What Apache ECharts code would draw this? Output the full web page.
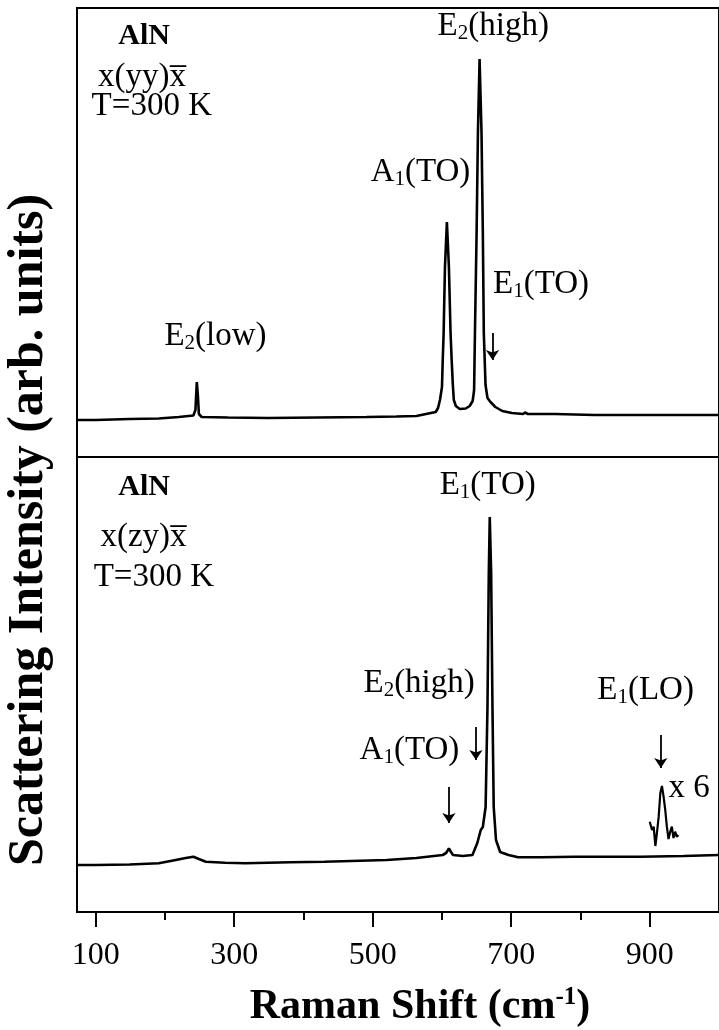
<!DOCTYPE html>
<html><head><meta charset="utf-8">
<script src="https://cdn.jsdelivr.net/npm/echarts@6/dist/echarts.min.js"></script>
<style>html,body{margin:0;padding:0;background:#fff}#c{width:719px;height:1030px}</style>
</head><body><div id="c"></div>
<script>
// Raman shift (cm^-1) tick labels
const tickLabels = [100, 300, 500, 700, 900];
const minorTicks = [200, 400, 600, 800];
// x(yy)x̄ spectrum: [Raman shift, intensity (arb. units)]
const topSpectrum = [
  [73,37],[100,37],[149,38],[191,38.5],[220,40],[234,41],[241,41.5],[244,47],[246,75],[247.5,62],[249,43],[253,40],
  [291,39.5],[349,39],[420,39.5],[491,40],[534,40.5],[563,41],[577,43],[584,44],[591,45],[594.3,49],[597.1,57],
  [600,70],[601.1,97],[602.4,124],[604.3,190],[607.1,235],[610,190],[612.4,124],[614,97],[615.7,72],[617.1,57],[620,51],
  [625.7,48],[634.3,48.5],[640,51],[644.3,56],[646.4,67],[647.6,124],[650,224],[651.9,324],[654.3,398],[657.1,324],
  [659,224],[660.4,124],[662.9,72],[665.7,59],[670,55],[677.1,50],[687,46],[701,44],[717,43],[720,44.5],[724,43],
  [763,43],[820,42],[891,42],[1000,42]
];
// x(zy)x̄ spectrum
const bottomSpectrum = [
  [73,47],[100,47],[149,47.5],[191,48.7],[210,51.3],[230,54],[241,55.3],[249,53],[259,50.3],[287,49.3],[316,48.7],
  [381,49.7],[430,50.3],[520,52],[563,54],[601,57],[606,59],[610,63.7],[613,60],[616,57],[630,56],[644,57],[651,69],
  [656,82],[659,85],[663,105],[665.7,205],[667.6,339],[669,395],[671,339],[672.9,205],[674.7,105],[678,72],[684,60],
  [696,57],[710,54.7],[744,54.7],[791,55.3],[839,55.3],[887,55.3],[949,56],[1000,57]
];
// E1(LO) region magnified x 6
const bottomLOx6 = [
  [900,90.3],[903.3,82],[905.7,85.3],[908.1,66],[910.4,79],[912.9,95.3],[915.3,119],[917.6,126],[920,115.3],
  [922.4,102],[924.7,85.3],[927.1,73],[929.6,80.3],[931.9,85.3],[934.3,74],[936.7,80.3],[939,75.3],[941.4,77]
];

const FONT = '"Liberation Serif","Times New Roman",serif';
const X_MIN = 73, X_MAX = 1000;
const rich = {
  m: {fontFamily: FONT, fontSize: 33, lineHeight: 42, color: '#000'},
  s: {fontFamily: FONT, fontSize: 21, padding: [15, 0, 0, 0], color: '#000'},
  b: {fontFamily: FONT, fontSize: 30, fontWeight: 'bold', lineHeight: 36, color: '#000'}
};
function lbl(text, v, I) {
  return {coord: [v, I], symbol: 'rect', symbolSize: 0,
    label: {show: true, position: 'inside', formatter: () => text, rich: rich, align: 'center', verticalAlign: 'middle'}};
}
function arrow(v, I1, I2) {
  return [{coord: [v, I1]}, {coord: [v, I2]}];
}
const lineMark = {silent: true, symbol: ['none', 'arrow'], symbolSize: 10, label: {show: false},
  lineStyle: {color: '#000', width: 1.8, type: 'solid'}, emphasis: {disabled: true}};

const chart = echarts.init(document.getElementById('c'));
chart.setOption({
  animation: false,
  backgroundColor: '#fff',
  grid: [
    {left: 77, top: 8, width: 649, height: 449, show: true, borderColor: '#000', borderWidth: 2},
    {left: 77, top: 457, width: 649, height: 455, show: true, borderColor: '#000', borderWidth: 2}
  ],
  xAxis: [
    {gridIndex: 0, type: 'value', position: 'bottom', min: X_MIN, max: X_MAX, axisLine: {show: false}, axisTick: {show: false},
      axisLabel: {show: false}, splitLine: {show: false}},
    {gridIndex: 1, type: 'value', position: 'bottom', min: X_MIN, max: X_MAX, axisLine: {show: false},
      axisTick: {show: true, customValues: tickLabels, length: 15, lineStyle: {color: '#000', width: 2}},
      axisLabel: {show: true, customValues: tickLabels, margin: 28, fontFamily: FONT, fontSize: 32, color: '#000'},
      splitLine: {show: false}},
    {gridIndex: 1, type: 'value', position: 'bottom', offset: 0, min: X_MIN, max: X_MAX, axisLine: {show: false},
      axisTick: {show: true, customValues: minorTicks, length: 8, lineStyle: {color: '#000', width: 2}},
      axisLabel: {show: false}, splitLine: {show: false}}
  ],
  yAxis: [
    {gridIndex: 0, type: 'value', min: 0, max: 449, show: false},
    {gridIndex: 1, type: 'value', min: 0, max: 455, show: false}
  ],
  graphic: [
    {type: 'text', x: 29, y: 530, rotation: Math.PI / 2,
      style: {text: 'Scattering Intensity (arb. units)', font: 'bold 50px ' + FONT, fill: '#000',
        textAlign: 'center', textVerticalAlign: 'middle'}},
    {type: 'text', x: 420, y: 1007,
      style: {text: '{a|Raman Shift (cm}{p|-1}{a|)}', textAlign: 'center', textVerticalAlign: 'middle', fill: '#000',
        rich: {a: {fontFamily: FONT, fontSize: 42, fontWeight: 'bold', lineHeight: 46, fill: '#000'},
               p: {fontFamily: FONT, fontSize: 25, fontWeight: 'bold', padding: [0, 0, 18, 0], fill: '#000'}}}}
  ],
  series: [
    {type: 'line', xAxisIndex: 0, yAxisIndex: 0, data: topSpectrum, showSymbol: false, silent: true,
      lineStyle: {color: '#000', width: 2.6},
      markPoint: {silent: true, data: [
        lbl('{b|AlN}', 170, 421),
        lbl('{m|x(yy)x\u0305}', 167, 380),
        lbl('{m|T=300 K}', 181, 351),
        lbl('{m|E}{s|2}{m|(low)}', 273, 121),
        lbl('{m|A}{s|1}{m|(TO)}', 569, 285),
        lbl('{m|E}{s|2}{m|(high)}', 674, 431),
        lbl('{m|E}{s|1}{m|(TO)}', 743, 173)
      ]},
      markLine: Object.assign({data: [arrow(673, 124, 97)]}, lineMark)
    },
    {type: 'line', xAxisIndex: 1, yAxisIndex: 1, data: bottomSpectrum, showSymbol: false, silent: true,
      lineStyle: {color: '#000', width: 2.6},
      markPoint: {silent: true, data: [
        lbl('{b|AlN}', 170, 425),
        lbl('{m|x(zy)x\u0305}', 169, 375),
        lbl('{m|T=300 K}', 184, 335),
        lbl('{m|E}{s|1}{m|(TO)}', 666, 427),
        lbl('{m|E}{s|2}{m|(high)}', 567, 229),
        lbl('{m|A}{s|1}{m|(TO)}', 553, 162),
        lbl('{m|E}{s|1}{m|(LO)}', 894, 222),
        lbl('{m|x 6}', 957, 124)
      ]},
      markLine: Object.assign({data: [arrow(610, 125, 89), arrow(649, 185, 152), arrow(916, 177, 144)]}, lineMark)
    },
    {type: 'line', xAxisIndex: 1, yAxisIndex: 1, data: bottomLOx6, showSymbol: false, silent: true,
      lineStyle: {color: '#000', width: 2.2}}
  ]
});
</script>
</body></html>
